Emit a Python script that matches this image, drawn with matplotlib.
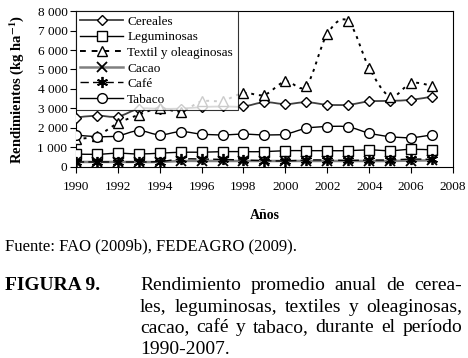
import matplotlib
matplotlib.use("Agg")
import matplotlib.pyplot as plt
import numpy as np
from matplotlib.path import Path
from matplotlib.patches import PathPatch
from matplotlib.lines import Line2D

plt.rcParams["font.family"] = ["Liberation Serif", "DejaVu Serif"]

years = list(range(1990, 2008))
cereales = [2530, 2630, 2580, 2980, 2980, 2990, 3070, 3100, 3100, 3320,
            3220, 3320, 3190, 3190, 3360, 3390, 3440, 3610]
leguminosas = [660, 640, 700, 660, 700, 750, 750, 780, 780, 780,
               830, 830, 830, 830, 870, 830, 900, 870]
textil = [1420, 1590, 2240, 2670, 3020, 2840, 3360, 3390, 3790, 3700,
          4390, 4160, 6830, 7480, 5080, 3610, 4300, 4160]
cacao = [250, 250, 250, 250, 250, 300, 300, 300, 300, 300,
         300, 300, 300, 300, 300, 300, 320, 330]
cafe = [250, 250, 250, 250, 270, 400, 400, 380, 350, 320,
        300, 350, 350, 330, 350, 350, 400, 380]
tabaco = [1640, 1550, 1590, 1860, 1640, 1810, 1680, 1640, 1680, 1640,
          1680, 1980, 2070, 2050, 1730, 1550, 1500, 1640]

caption = ["Rendimiento promedio anual de cerea-",
           "les, leguminosas, textiles y oleaginosas,",
           "cacao, café y tabaco, durante el período",
           "1990-2007."]


def smooth_path(x, y):
    # Excel-style smoothed line: Catmull-Rom segments as cubic Beziers
    p = np.column_stack([x, y]).astype(float)
    n = len(p)
    verts = [p[0]]
    codes = [Path.MOVETO]
    for i in range(n - 1):
        p0 = p[i - 1] if i > 0 else p[i]
        p3 = p[i + 2] if i + 2 < n else p[i + 1]
        c1 = p[i] + (p[i + 1] - p0) / 6
        c2 = p[i + 1] - (p3 - p[i]) / 6
        verts += [c1, c2, p[i + 1]]
        codes += [Path.CURVE4] * 3
    return Path(verts, codes)


W, H = 468, 358
fig = plt.figure(figsize=(W / 100, H / 100), dpi=100)
ax = fig.add_axes([0.162, 0.534, 0.806, 0.435])

series = [
    ("Cereales", cereales, dict(color="#404040", lw=1.3, ls="-"), dict(marker="D", ms=5)),
    ("Leguminosas", leguminosas, dict(color="black", lw=1.0, ls="-"), dict(marker="s", ms=7)),
    ("Textil y oleaginosas", textil, dict(color="black", lw=1.4, ls=(0, (1.5, 2.5))), dict(marker="^", ms=7)),
    ("Cacao", cacao, dict(color="#808080", lw=1.8, ls="-"), dict(marker="x", ms=7, mew=1.3)),
    ("Café", cafe, dict(color="black", lw=1.0, ls=(0, (6, 3))), dict(marker=(6, 2, 0), ms=8, mew=1.3)),
    ("Tabaco", tabaco, dict(color="black", lw=1.0, ls="-"), dict(marker="o", ms=7)),
]

handles = []
for name, vals, lstyle, mstyle in series:
    patch = PathPatch(smooth_path(years, vals), fill=False, edgecolor=lstyle["color"],
                      lw=lstyle["lw"], ls=lstyle["ls"], zorder=2)
    ax.add_patch(patch)
    ax.plot(years, vals, linestyle="none", marker=mstyle["marker"], ms=mstyle["ms"],
            mfc="white", mec="black", mew=mstyle.get("mew", 1.0), zorder=3)
    handles.append(Line2D([0], [0], color=lstyle["color"], lw=lstyle["lw"],
                          ls=lstyle["ls"] if name != "Textil y oleaginosas" else (0, (3, 3)),
                          marker=mstyle["marker"], ms=mstyle["ms"], mfc="white",
                          mec="black", mew=mstyle.get("mew", 1.0), label=name))

ax.set_xlim(1990, 2008)
ax.set_ylim(0, 8000)
ax.set_xticks(range(1990, 2009, 2))
ax.set_yticks(range(0, 8001, 1000))
ax.set_yticklabels(["0" if v == 0 else f"{v // 1000} {v % 1000:03d}" for v in range(0, 8001, 1000)])
ax.tick_params(axis="both", labelsize=9.5, direction="out", length=4, width=0.8, pad=2)
ax.tick_params(axis="x", pad=6)
for s in ax.spines.values():
    s.set_linewidth(0.8)

ax.set_xlabel("Años", fontsize=10, fontweight="bold", labelpad=12)
ax.set_ylabel("Rendimientos (kg ha$^{\\mathbf{-1}}$)", fontsize=10.5, fontweight="bold", labelpad=8)
ax.yaxis.label.set_math_fontfamily("stix")

leg = ax.legend(handles=handles, loc="upper left", fontsize=9.5, handlelength=3.2,
                handletextpad=0.35, labelspacing=0.25, borderaxespad=0, borderpad=0.35,
                frameon=True, fancybox=False, edgecolor="black")
leg.get_frame().set_linewidth(0.8)

fig.text(5 / W, 1 - 246 / H, "Fuente: FAO (2009b), FEDEAGRO (2009).", fontsize=12, va="center")
fig.text(5 / W, 1 - 286 / H, "FIGURA 9.", fontsize=14, fontweight="bold", va="center")

# justified caption block
fig.canvas.draw()
renderer = fig.canvas.get_renderer()
x0, x1 = 140, 462
for i, line in enumerate(caption):
    yf = 1 - (286 + 21 * i) / H
    words = line.split(" ")
    if i == len(caption) - 1:
        fig.text(x0 / W, yf, line, fontsize=14, va="center")
        continue
    objs = [fig.text(0, yf, w, fontsize=14, va="center") for w in words]
    widths = [o.get_window_extent(renderer).width for o in objs]
    gap = (x1 - x0 - sum(widths)) / (len(words) - 1)
    x = x0
    for o, w in zip(objs, widths):
        o.set_x(x / W)
        x += w + gap

fig.savefig("out.png", dpi=100)
